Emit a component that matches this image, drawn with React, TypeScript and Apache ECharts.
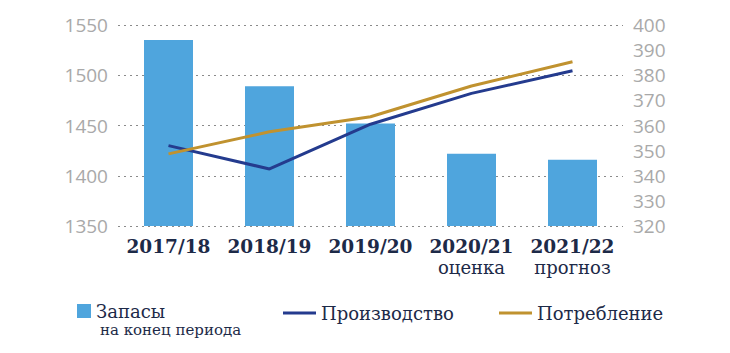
import React, { useEffect, useRef } from "react";
import * as echarts from "echarts";

const categories = ["2017/18", "2018/19", "2019/20", "2020/21", "2021/22"];
const subLabels = ["", "", "", "оценка", "прогноз"];
const stocks = [1535, 1489, 1452, 1422, 1416];
const production = [352, 342.7, 360.5, 372.8, 381.8];
const consumption = [348.7, 357.5, 363.5, 375.7, 385.4];
const leftTicks = { min: 1350, max: 1550, interval: 50 };
const rightTicks = { min: 320, max: 400, interval: 10 };
const stocksNote = "на конец периода";

const NAVY = "#1d2a48";
const SERIF = "DejaVu Serif";
const SANS = "Open Sans";

export default function App() {
  const ref = useRef<HTMLDivElement>(null);
  useEffect(() => {
    if (!ref.current) return;
    const chart = echarts.init(ref.current, undefined, { renderer: "svg" });
    chart.setOption({
      animation: false,
      backgroundColor: "#ffffff",
      grid: { left: 118, right: 107, top: 25, bottom: 127, containLabel: false },
      xAxis: {
        type: "category",
        data: categories,
        axisLine: { show: false },
        axisTick: { show: false },
        axisLabel: {
          margin: 10,
          interval: 0,
          formatter: (v: string, i: number) =>
            subLabels[i] ? `{a|${v}}\n{b|${subLabels[i]}}` : `{a|${v}}`,
          rich: {
            a: { fontFamily: SERIF, fontWeight: "bold", fontSize: 18.5, color: NAVY, lineHeight: 21 },
            b: { fontFamily: SERIF, fontSize: 18, color: NAVY, lineHeight: 21 },
          },
        },
      },
      yAxis: [
        {
          type: "value",
          ...leftTicks,
          axisLine: { show: false },
          axisTick: { show: false },
          axisLabel: { margin: 10, fontFamily: SANS, fontSize: 19, color: "#a9a9a9", formatter: (v: number) => String(v) },
          splitLine: { lineStyle: { type: [2, 4], color: "#8a8a8a", width: 1 } },
        },
        {
          type: "value",
          ...rightTicks,
          position: "right",
          axisLine: { show: false },
          axisTick: { show: false },
          axisLabel: { margin: 10, fontFamily: SANS, fontSize: 19, color: "#a9a9a9", formatter: (v: number) => String(v) },
          splitLine: { show: false },
        },
      ],
      legend: [
        {
          left: 77,
          top: 302,
          padding: 0,
          itemWidth: 14,
          itemHeight: 14,
          itemGap: 8,
          data: [{ name: "Запасы", icon: "rect" }],
          textStyle: { fontFamily: SERIF, fontSize: 18, color: NAVY },
        },
        {
          left: 283,
          top: 304,
          padding: 0,
          itemWidth: 33,
          itemHeight: 3,
          itemGap: 9,
          data: [{ name: "Производство", icon: "rect" }],
          textStyle: { fontFamily: SERIF, fontSize: 18, color: NAVY },
        },
        {
          left: 499,
          top: 304,
          padding: 0,
          itemWidth: 33,
          itemHeight: 3,
          itemGap: 9,
          data: [{ name: "Потребление", icon: "rect" }],
          textStyle: { fontFamily: SERIF, fontSize: 18, color: NAVY },
        },
      ],
      graphic: [
        {
          type: "text",
          left: 100,
          top: 322,
          style: { text: stocksNote, fontFamily: SERIF, fontSize: 15, fill: NAVY },
        },
      ],
      series: [
        {
          name: "Запасы",
          type: "bar",
          data: stocks,
          barWidth: 49,
          itemStyle: { color: "#4fa5dd" },
          yAxisIndex: 0,
        },
        {
          name: "Производство",
          type: "line",
          data: production,
          yAxisIndex: 1,
          symbol: "none",
          lineStyle: { color: "#243b8e", width: 3 },
          itemStyle: { color: "#243b8e" },
        },
        {
          name: "Потребление",
          type: "line",
          data: consumption,
          yAxisIndex: 1,
          symbol: "none",
          lineStyle: { color: "#c0922f", width: 3 },
          itemStyle: { color: "#c0922f" },
        },
      ],
    });
    return () => chart.dispose();
  }, []);
  return (
    <div
      ref={ref}
      style={{ position: "absolute", left: 0, top: 0, width: 730, height: 353 }}
    />
  );
}
